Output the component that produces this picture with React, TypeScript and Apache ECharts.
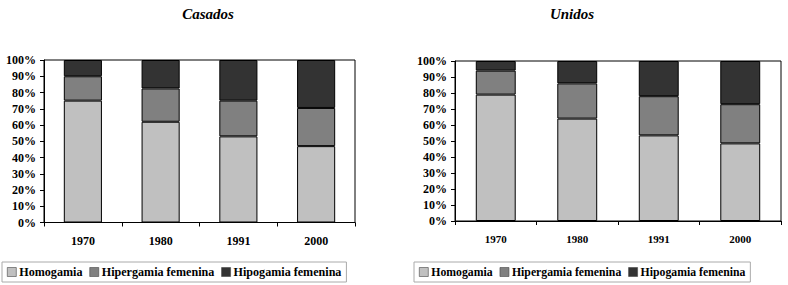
import React, { useEffect, useRef } from "react";
import * as echarts from "echarts";

const years = ["1970", "1980", "1991", "2000"];
const seriesNames = ["Homogamia", "Hipergamia femenina", "Hipogamia femenina"];
const casadosHomogamia = [75, 62, 53, 47];
const casadosHipergamia = [15, 20.5, 22, 23.5];
const casadosHipogamia = [10, 17.5, 25, 29.5];
const unidosHomogamia = [79, 64, 53.5, 48.5];
const unidosHipergamia = [15, 22, 24.5, 24.5];
const unidosHipogamia = [6, 14, 22, 27];
const colors = ["#c0c0c0", "#808080", "#333333"];

const FONT = "Liberation Serif";

export default function App() {
  const ref = useRef<HTMLDivElement>(null);
  useEffect(() => {
    if (!ref.current) return;
    const chart = echarts.init(ref.current, null, { renderer: "svg" });
    const mkX = (gi: number, fs: number) => ({
      type: "category",
      gridIndex: gi,
      data: years,
      axisLine: { show: true, lineStyle: { color: "#000", width: 1 } },
      axisTick: { show: true, alignWithLabel: false, length: 4, lineStyle: { color: "#000" } },
      axisLabel: { color: "#000", fontFamily: FONT, fontWeight: "bold", fontSize: fs, margin: 12 },
      splitLine: { show: false },
    });
    const mkY = (gi: number, fs: number, margin: number) => ({
      type: "value",
      gridIndex: gi,
      min: 0,
      max: 100,
      interval: 10,
      axisLine: { show: true, lineStyle: { color: "#000", width: 1 } },
      axisTick: { show: true, length: 4, lineStyle: { color: "#000" } },
      axisLabel: {
        color: "#000",
        fontFamily: FONT,
        fontWeight: "bold",
        fontSize: fs,
        margin,
        formatter: (v: number) => v + "%",
      },
      splitLine: { show: false },
    });
    const groups = [
      [casadosHomogamia, casadosHipergamia, casadosHipogamia],
      [unidosHomogamia, unidosHipergamia, unidosHipogamia],
    ];
    const series: any[] = [];
    groups.forEach((g, gi) => {
      g.forEach((data, si) => {
        series.push({
          type: "bar",
          name: seriesNames[si],
          stack: "s" + gi,
          xAxisIndex: gi,
          yAxisIndex: gi,
          data,
          barWidth: "49%",
          itemStyle: { color: colors[si], borderColor: "#000", borderWidth: 1 },
          emphasis: { disabled: true },
        });
      });
    });
    const mkLegend = (left: number, fs: number) => ({
      left,
      top: 262,
      orient: "horizontal",
      data: seriesNames.map((n) => ({ name: n, icon: "rect" })),
      itemWidth: 9,
      itemHeight: 9,
      itemGap: 7,
      padding: [4, 5, 4, 5],
      borderColor: "#aaa",
      borderWidth: 1,
      selectedMode: false,
      itemStyle: { borderColor: "#444", borderWidth: 0.6 },
      textStyle: { color: "#000", fontFamily: FONT, fontWeight: "bold", fontSize: fs, padding: [0, 0, 0, -2] },
    });
    const titleStyle = { fontFamily: FONT, fontWeight: "bold", fontStyle: "italic", fontSize: 15, color: "#000" };
    chart.setOption({
      animation: false,
      backgroundColor: "#fff",
      title: [
        { text: "Casados", left: 203, top: 1, textAlign: "center", textStyle: titleStyle },
        { text: "Unidos", left: 567, top: 1, textAlign: "center", textStyle: titleStyle },
      ],
      legend: [mkLegend(2, 12.1), mkLegend(414, 11.75)],
      grid: [
        { left: 44, top: 60, width: 311, height: 162.5, show: true, borderColor: "#000", borderWidth: 1, backgroundColor: "#fff" },
        { left: 455, top: 61, width: 326, height: 160, show: true, borderColor: "#000", borderWidth: 1, backgroundColor: "#fff" },
      ],
      xAxis: [mkX(0, 12), mkX(1, 11)],
      yAxis: [mkY(0, 12, 8), mkY(1, 12, 8)],
      series,
    });
    return () => chart.dispose();
  }, []);
  return (
    <div
      ref={ref}
      style={{ position: "fixed", left: 0, top: 0, width: 788, height: 285, background: "#fff" }}
    />
  );
}
